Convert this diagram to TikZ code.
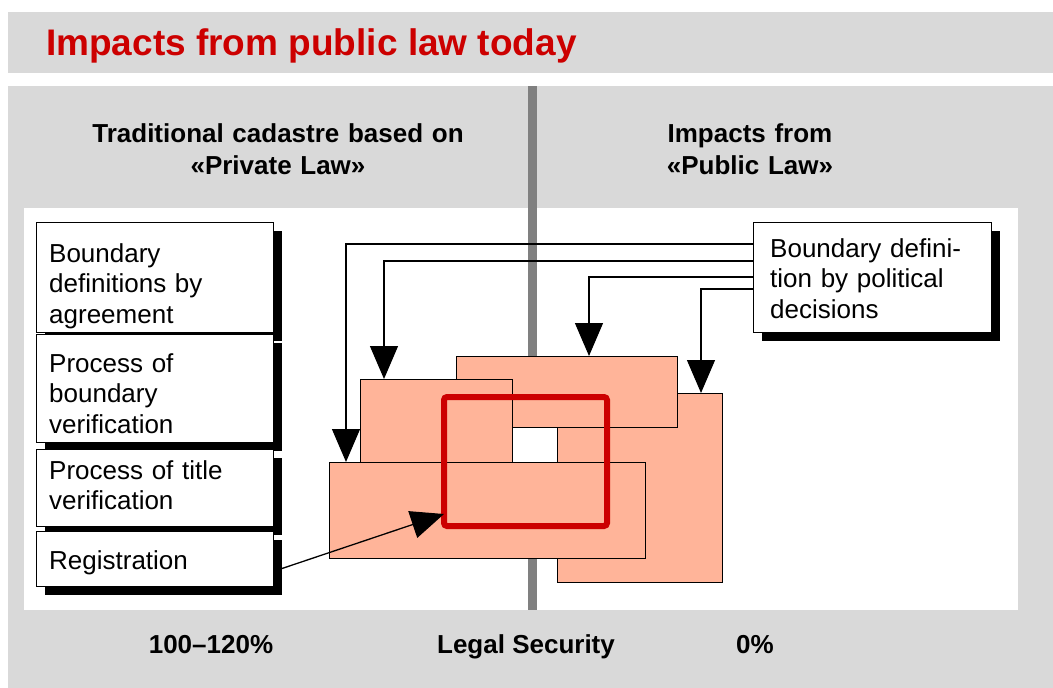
\documentclass[tikz,border=0pt]{standalone}
\usepackage{fontspec}
\setmainfont{Liberation Sans}
\usetikzlibrary{arrows.meta,shadows}
\definecolor{panel}{RGB}{217,217,217}
\definecolor{vgray}{RGB}{128,128,128}
\definecolor{salmon}{RGB}{255,180,153}
\definecolor{titlered}{RGB}{204,0,0}
\begin{document}
\begin{tikzpicture}[x=1pt,y=-1pt,
  box/.style={draw=black, line width=1pt, fill=white, inner sep=0pt, outer sep=0pt, anchor=north west,
    drop shadow={shadow xshift=9pt, shadow yshift=-9pt, fill=black, opacity=1}},
  lbl/.style={anchor=base west, inner sep=0pt, text width=225pt, align=left,
    font=\fontsize{26}{30.5}\selectfont},
  hdr/.style={anchor=base, inner sep=0pt, text width=420pt, align=center,
    font=\fontsize{26}{32}\selectfont\bfseries},
  foot/.style={anchor=base, inner sep=0pt, font=\fontsize{26}{31}\selectfont\bfseries},
  area/.style={draw=black, line width=1pt, fill=salmon, inner sep=0pt, outer sep=0pt, anchor=north west},
  arr/.style={draw=black, line width=1.3pt, -{Triangle[length=33pt,width=28pt]}},
  vline/.style={draw=vgray, line width=9pt}
]
\fill[white] (0,0) rectangle (1053,688);
\useasboundingbox (0,0) rectangle (1053,688);
\fill[panel] (8,12) rectangle (1053,72.5);
\fill[panel] (8,86) rectangle (1053,688);
\fill[white] (24,208) rectangle (1018,610);

\node[anchor=base west, inner sep=0pt, text=titlered, font=\fontsize{37}{40}\selectfont\bfseries] (title) at (46,55) {Impacts from public law today};

\coordinate (vt) at (532.5,86);
\coordinate (vm1) at (532.5,356);
\coordinate (vm2) at (532.5,558);
\coordinate (vb) at (532.5,610);
\draw[vline] (vt) -- (vm1);
\draw[vline] (vm2) -- (vb);

\node[hdr] (hleft) at (278,142) {Traditional cadastre based on\\«Private Law»};
\node[hdr] (hright) at (750,142) {Impacts from\\«Public Law»};

\node[foot] (f1) at (211,653) {100–120\%};
\node[foot] (f2) at (526,653) {Legal Security};
\node[foot] (f3) at (755,653) {0\%};

% left boxes
\node[box, minimum width=237pt, minimum height=110pt] (agr) at (36,222) {};
\node[lbl] (tagr) at (49,262) {Boundary\\definitions by\\agreement};
\node[box, minimum width=237pt, minimum height=108pt] (bver) at (36,334) {};
\node[lbl] (tbver) at (49,372) {Process of\\boundary\\verification};
\node[box, minimum width=237pt, minimum height=77pt] (tver) at (36,449) {};
\node[lbl] (ttver) at (49,479) {Process of title\\verification};
\node[box, minimum width=237pt, minimum height=55pt] (reg) at (36,531) {};
\node[lbl] (treg) at (49,569) {Registration};

% right box
\node[box, minimum width=238pt, minimum height=110pt] (pol) at (753,222) {};
\node[lbl] (tpol) at (770,257) {Boundary defini-\\tion by political\\decisions};

% overlapping areas
\node[area, minimum width=165pt, minimum height=189pt] (rC) at (557,393) {};
\node[area, minimum width=221pt, minimum height=71pt] (rA) at (456,356) {};
\node[area, minimum width=152pt, minimum height=83pt] (rB) at (360,379) {};
\node[area, minimum width=316pt, minimum height=96pt] (rD) at (329,462) {};
\node[draw=titlered, line width=6pt, rounded corners=3pt, inner sep=0pt, outer sep=0pt, anchor=north west,
  minimum width=163pt, minimum height=129pt] (focus) at (444,397) {};

% connectors
\draw[arr] ([yshift=-22pt]pol.north west) -| ([xshift=17pt]rD.north west);
\draw[arr] ([yshift=-39pt]pol.north west) -| ([xshift=24pt]rB.north west);
\draw[arr] ([yshift=-55pt]pol.north west) -| ([xshift=133pt]rA.north west);
\draw[arr] ([yshift=-67pt]pol.north west) -| ([xshift=144pt]rC.north west);
\draw[arr] ([xshift=9pt,yshift=-10pt]reg.east) -- ([yshift=12pt]focus.south west);
\end{tikzpicture}
\end{document}
